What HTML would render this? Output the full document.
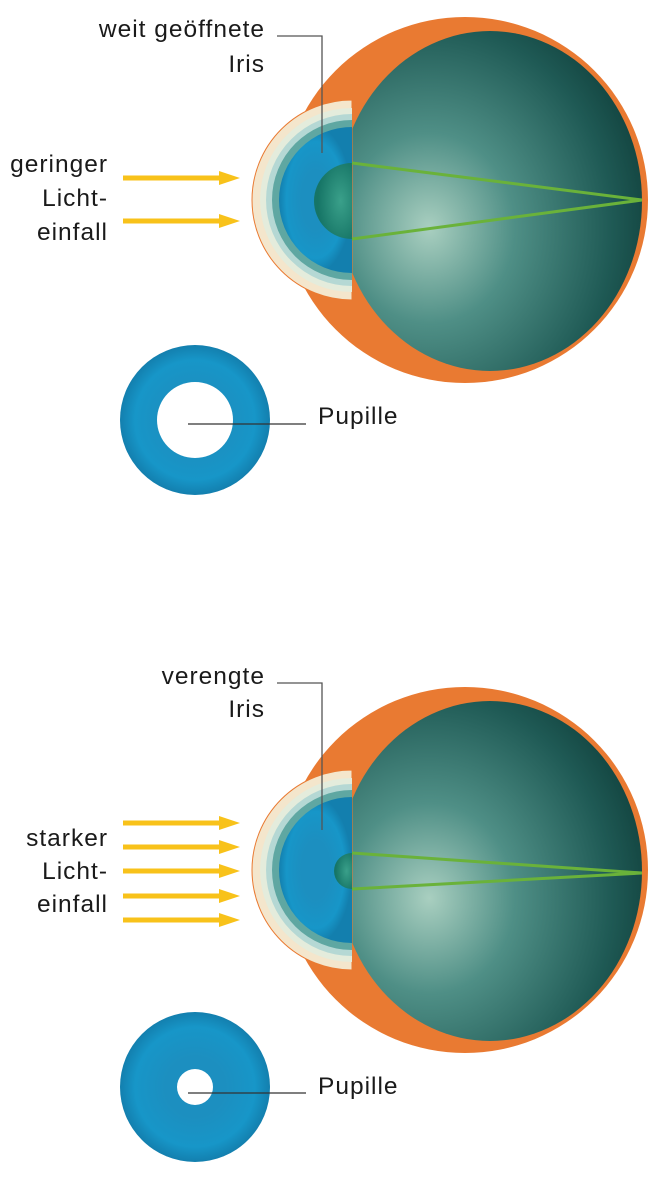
<!DOCTYPE html>
<html><head><meta charset="utf-8"><style>
html,body{margin:0;padding:0;background:#fff;}
svg{display:block;}
text{font-family:"Liberation Sans",sans-serif;font-size:24.5px;letter-spacing:1px;fill:#1a1a1a;}
</style></head><body>
<svg width="654" height="1183" viewBox="0 0 654 1183" xmlns="http://www.w3.org/2000/svg">
<defs>
<radialGradient id="sph" cx="0.3" cy="0.58" r="0.8">
<stop offset="0" stop-color="#a9cfc0"/><stop offset="0.35" stop-color="#4f8f86"/><stop offset="0.75" stop-color="#1f5a55"/><stop offset="1" stop-color="#0d3a36"/>
</radialGradient>
<radialGradient id="iris" cx="0.5" cy="0.5" r="0.5">
<stop offset="0.4" stop-color="#1c8fc0"/><stop offset="0.8" stop-color="#1796c8"/><stop offset="1" stop-color="#137fae"/>
</radialGradient>
<radialGradient id="pup" cx="0.7" cy="0.5" r="0.6">
<stop offset="0" stop-color="#3aa08a"/><stop offset="1" stop-color="#167566"/>
</radialGradient>
<g id="arrow"><rect x="123" y="-2.5" width="100" height="5" fill="#f8c21a"/><polygon points="219,-7 240,0 219,7" fill="#f8c21a"/></g>
</defs>

<circle cx="465" cy="200" r="183" fill="#e97a32"/>
<ellipse cx="490" cy="201" rx="152" ry="170" fill="url(#sph)"/>
<path d="M352,100 A100,100 0 0 0 352,300 Z" fill="#f4e6cc" stroke="#e97a32" stroke-width="1"/>
<path d="M352,108 A92,92 0 0 0 352,292 Z" fill="#e4ecdc"/>
<path d="M352,114 A86,86 0 0 0 352,286 Z" fill="#b5d8d4"/>
<path d="M352,120 A80,80 0 0 0 352,280 Z" fill="#5fa7a2"/>
<path d="M352,127 A73,73 0 0 0 352,273 Z" fill="url(#iris)"/>
<path d="M352,163 A38,38 0 0 0 352,239 Z" fill="url(#pup)"/>
<line x1="352" y1="163" x2="642" y2="200" stroke="#6ab23a" stroke-width="3"/>
<line x1="352" y1="239" x2="642" y2="200" stroke="#6ab23a" stroke-width="3"/>

<use href="#arrow" y="178"/>
<use href="#arrow" y="221"/>

<text x="265" y="37" text-anchor="end">weit geöffnete</text>
<text x="265" y="72" text-anchor="end">Iris</text>
<polyline points="277,36 322,36 322,153" fill="none" stroke="#555" stroke-width="1.3"/>
<text x="108" y="172" text-anchor="end">geringer</text>
<text x="108" y="206" text-anchor="end">Licht-</text>
<text x="108" y="240" text-anchor="end">einfall</text>

<circle cx="195" cy="420" r="75" fill="url(#iris)"/>
<circle cx="195" cy="420" r="38" fill="#fff"/>
<line x1="188" y1="424" x2="306" y2="424" stroke="#333" stroke-width="1.2"/>
<text x="318" y="424">Pupille</text>

<g transform="translate(0,670)">
<circle cx="465" cy="200" r="183" fill="#e97a32"/>
<ellipse cx="490" cy="201" rx="152" ry="170" fill="url(#sph)"/>
<path d="M352,100 A100,100 0 0 0 352,300 Z" fill="#f4e6cc" stroke="#e97a32" stroke-width="1"/>
<path d="M352,108 A92,92 0 0 0 352,292 Z" fill="#e4ecdc"/>
<path d="M352,114 A86,86 0 0 0 352,286 Z" fill="#b5d8d4"/>
<path d="M352,120 A80,80 0 0 0 352,280 Z" fill="#5fa7a2"/>
<path d="M352,127 A73,73 0 0 0 352,273 Z" fill="url(#iris)"/>
<path d="M352,183 A18,18 0 0 0 352,219 Z" fill="url(#pup)"/>
<line x1="352" y1="183" x2="642" y2="203" stroke="#6ab23a" stroke-width="3"/>
<line x1="352" y1="219" x2="642" y2="203" stroke="#6ab23a" stroke-width="3"/>
</g>

<use href="#arrow" y="823"/>
<use href="#arrow" y="847"/>
<use href="#arrow" y="871"/>
<use href="#arrow" y="896"/>
<use href="#arrow" y="920"/>

<text x="265" y="684" text-anchor="end">verengte</text>
<text x="265" y="717" text-anchor="end">Iris</text>
<polyline points="277,683 322,683 322,830" fill="none" stroke="#555" stroke-width="1.3"/>
<text x="108" y="846" text-anchor="end">starker</text>
<text x="108" y="879" text-anchor="end">Licht-</text>
<text x="108" y="912" text-anchor="end">einfall</text>

<circle cx="195" cy="1087" r="75" fill="url(#iris)"/>
<circle cx="195" cy="1087" r="18" fill="#fff"/>
<line x1="188" y1="1093" x2="306" y2="1093" stroke="#333" stroke-width="1.2"/>
<text x="318" y="1094">Pupille</text>
</svg>
</body></html>
